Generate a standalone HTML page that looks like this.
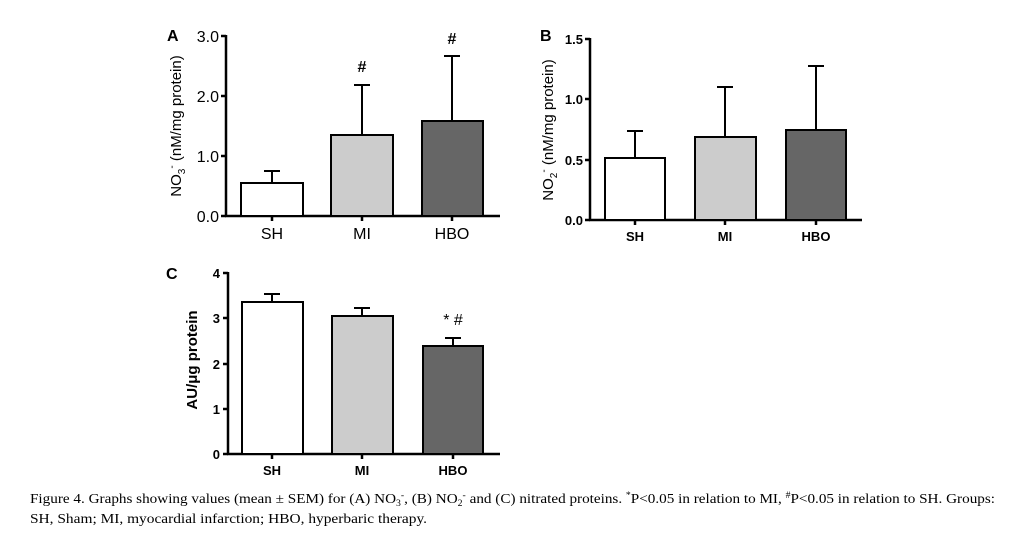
<!DOCTYPE html>
<html><head><meta charset="utf-8"><style>
html,body{margin:0;padding:0;background:#fff;}
svg{display:block;}
</style></head><body>
<svg width="1025" height="554" viewBox="0 0 1025 554" xmlns="http://www.w3.org/2000/svg" font-family="Liberation Sans, Arial, sans-serif">
<rect width="1025" height="554" fill="#fff"/>
<!-- Panel A -->
<g stroke="#000" stroke-width="2.5" fill="none">
 <line x1="226" y1="35" x2="226" y2="217"/>
 <line x1="225" y1="216" x2="500" y2="216"/>
 <line x1="221" y1="36" x2="226" y2="36"/><line x1="221" y1="96" x2="226" y2="96"/><line x1="221" y1="156" x2="226" y2="156"/><line x1="221" y1="216" x2="226" y2="216"/>
 <line x1="272" y1="216" x2="272" y2="221"/><line x1="362" y1="216" x2="362" y2="221"/><line x1="452" y1="216" x2="452" y2="221"/>
</g>
<g stroke="#000" stroke-width="2">
 <line x1="272" y1="183" x2="272" y2="171"/><line x1="264" y1="171" x2="280" y2="171"/>
 <line x1="362" y1="135" x2="362" y2="85"/><line x1="354" y1="85" x2="370" y2="85"/>
 <line x1="452" y1="121" x2="452" y2="56"/><line x1="444" y1="56" x2="460" y2="56"/>
 <rect x="241" y="183" width="62" height="33" fill="#fff"/>
 <rect x="331" y="135" width="62" height="81" fill="#cccccc"/>
 <rect x="422" y="121" width="61" height="95" fill="#666666"/>
</g>
<g font-size="16" fill="#000" text-anchor="end">
 <text x="219" y="42">3.0</text><text x="219" y="102">2.0</text><text x="219" y="162">1.0</text><text x="219" y="222">0.0</text>
</g>
<g font-size="16" text-anchor="middle">
 <text x="272" y="239">SH</text><text x="362" y="239">MI</text><text x="452" y="239">HBO</text>
 <text x="362" y="72" font-weight="bold">#</text><text x="452" y="44" font-weight="bold">#</text>
</g>
<text x="167" y="41" font-size="16" font-weight="bold">A</text>
<text transform="translate(181,126) rotate(-90)" font-size="15" text-anchor="middle">NO<tspan font-size="10" dy="4">3</tspan><tspan font-size="10" dy="-10">-</tspan><tspan dy="6"> (nM/mg protein)</tspan></text>

<!-- Panel B -->
<g stroke="#000" stroke-width="2.5" fill="none">
 <line x1="590" y1="38" x2="590" y2="221"/>
 <line x1="589" y1="220" x2="862" y2="220"/>
 <line x1="585" y1="39" x2="590" y2="39"/><line x1="585" y1="99" x2="590" y2="99"/><line x1="585" y1="160" x2="590" y2="160"/><line x1="585" y1="220" x2="590" y2="220"/>
 <line x1="635" y1="220" x2="635" y2="225"/><line x1="725" y1="220" x2="725" y2="225"/><line x1="816" y1="220" x2="816" y2="225"/>
</g>
<g stroke="#000" stroke-width="2">
 <line x1="635" y1="158" x2="635" y2="131"/><line x1="627" y1="131" x2="643" y2="131"/>
 <line x1="725" y1="137" x2="725" y2="87"/><line x1="717" y1="87" x2="733" y2="87"/>
 <line x1="816" y1="130" x2="816" y2="66"/><line x1="808" y1="66" x2="824" y2="66"/>
 <rect x="605" y="158" width="60" height="62" fill="#fff"/>
 <rect x="695" y="137" width="61" height="83" fill="#cccccc"/>
 <rect x="786" y="130" width="60" height="90" fill="#666666"/>
</g>
<g font-size="13" font-weight="bold" text-anchor="end">
 <text x="583" y="44">1.5</text><text x="583" y="104">1.0</text><text x="583" y="165">0.5</text><text x="583" y="225">0.0</text>
</g>
<g font-size="13" font-weight="bold" text-anchor="middle">
 <text x="635" y="241">SH</text><text x="725" y="241">MI</text><text x="816" y="241">HBO</text>
</g>
<text x="540" y="41" font-size="16" font-weight="bold">B</text>
<text transform="translate(553,130) rotate(-90)" font-size="15" text-anchor="middle">NO<tspan font-size="10" dy="4">2</tspan><tspan font-size="10" dy="-10">-</tspan><tspan dy="6"> (nM/mg protein)</tspan></text>

<!-- Panel C -->
<g stroke="#000" stroke-width="2.5" fill="none">
 <line x1="228" y1="272" x2="228" y2="455"/>
 <line x1="227" y1="454" x2="500" y2="454"/>
 <line x1="223" y1="273" x2="228" y2="273"/><line x1="223" y1="318" x2="228" y2="318"/><line x1="223" y1="364" x2="228" y2="364"/><line x1="223" y1="409" x2="228" y2="409"/><line x1="223" y1="454" x2="228" y2="454"/>
 <line x1="272" y1="454" x2="272" y2="459"/><line x1="362" y1="454" x2="362" y2="459"/><line x1="453" y1="454" x2="453" y2="459"/>
</g>
<g stroke="#000" stroke-width="2">
 <line x1="272" y1="302" x2="272" y2="294"/><line x1="264" y1="294" x2="280" y2="294"/>
 <line x1="362" y1="316" x2="362" y2="308"/><line x1="354" y1="308" x2="370" y2="308"/>
 <line x1="453" y1="346" x2="453" y2="338"/><line x1="445" y1="338" x2="461" y2="338"/>
 <rect x="242" y="302" width="61" height="152" fill="#fff"/>
 <rect x="332" y="316" width="61" height="138" fill="#cccccc"/>
 <rect x="423" y="346" width="60" height="108" fill="#666666"/>
</g>
<g font-size="13" font-weight="bold" text-anchor="end">
 <text x="220" y="278">4</text><text x="220" y="323">3</text><text x="220" y="369">2</text><text x="220" y="414">1</text><text x="220" y="459">0</text>
</g>
<g font-size="13" font-weight="bold" text-anchor="middle">
 <text x="272" y="475">SH</text><text x="362" y="475">MI</text><text x="453" y="475">HBO</text>
</g>
<text x="453" y="325" font-size="16" text-anchor="middle">* #</text>
<text x="166" y="279" font-size="16" font-weight="bold">C</text>
<text transform="translate(197,360) rotate(-90)" font-size="15" font-weight="bold" text-anchor="middle">AU/μg protein</text>

<!-- Caption -->
<g font-family="Liberation Serif, Times New Roman, serif" font-size="14" fill="#000">
<text x="30" y="503" textLength="965" lengthAdjust="spacingAndGlyphs">Figure 4. Graphs showing values (mean ± SEM) for (A) NO<tspan font-size="9" dy="3">3</tspan><tspan font-size="9" dy="-8">-</tspan><tspan dy="5">, (B) NO</tspan><tspan font-size="9" dy="3">2</tspan><tspan font-size="9" dy="-8">-</tspan><tspan dy="5"> and (C) nitrated proteins. </tspan><tspan font-size="9" dy="-5">*</tspan><tspan dy="5">P&lt;0.05 in relation to MI, </tspan><tspan font-size="9" dy="-5">#</tspan><tspan dy="5">P&lt;0.05 in relation to SH. Groups:</tspan></text>
<text x="30" y="523" textLength="397" lengthAdjust="spacingAndGlyphs">SH, Sham; MI, myocardial infarction; HBO, hyperbaric therapy.</text>
</g>
</svg>
</body></html>
